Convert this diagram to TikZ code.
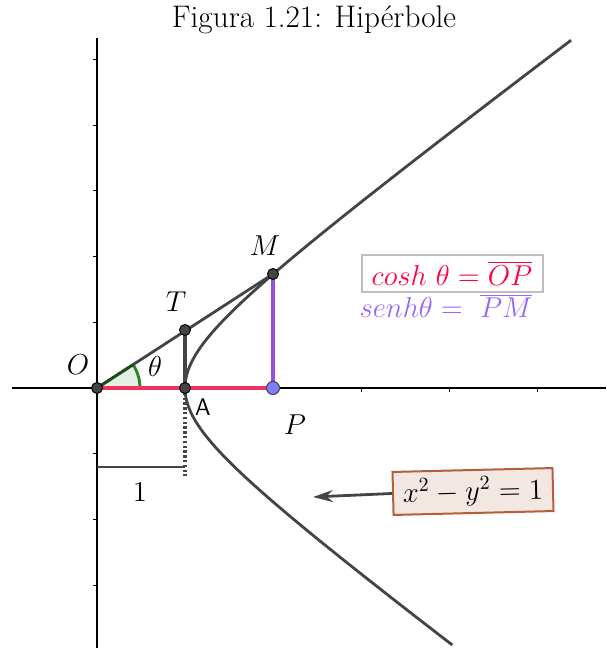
\documentclass[tikz,border=0pt]{standalone}
\usetikzlibrary{arrows.meta,calc}
\definecolor{dk}{RGB}{68,68,68}
\definecolor{redseg}{RGB}{240,50,95}
\definecolor{redtxt}{RGB}{255,0,64}
\definecolor{purseg}{RGB}{150,80,220}
\definecolor{purtxt}{RGB}{150,100,255}
\definecolor{pblue}{RGB}{125,125,255}
\definecolor{angg}{RGB}{40,130,40}
\definecolor{eqfill}{RGB}{243,231,226}
\definecolor{eqdraw}{RGB}{180,95,60}
\definecolor{boxgray}{RGB}{190,190,190}
\begin{document}
\begin{tikzpicture}[x=0.5pt,y=-0.5pt,
  lbl/.style={font=\fontsize{14}{17}\selectfont, inner sep=0pt},
  axisline/.style={draw=black, line width=0.75pt},
  tick/.style={draw=black, line width=0.5pt},
  curve/.style={draw=dk, line width=1.4pt},
  ptnode/.style={circle, draw=black, fill=dk, line width=0.5pt, minimum size=5.5pt, inner sep=0pt},
  pnode/.style={circle, draw=dk, fill=pblue, line width=0.5pt, minimum size=6.5pt, inner sep=0pt},
  eqbox/.style={draw=eqdraw, fill=eqfill, line width=1pt, minimum width=80pt, minimum height=21.5pt, rotate=1.4, font=\fontsize{14}{17}\selectfont},
  graybox/.style={draw=boxgray, fill=white, line width=1pt, minimum width=90.5pt, minimum height=16.5pt, font=\fontsize{14}{17}\selectfont}
]
\useasboundingbox (0,0) rectangle (606,648);
% title
\node[anchor=base, font=\fontsize{15.6}{18}\selectfont, inner sep=0pt] (title) at (314,27) {Figura 1.21: Hip\'erbole};
% coordinates
\coordinate (cO) at (97,388);
\coordinate (cA) at (185,388);
\coordinate (cT) at (185,330);
\coordinate (cM) at (273,274);
\coordinate (cP) at (273,388);
\coordinate (xl) at (12,388);
\coordinate (xr) at (606,388);
\coordinate (yt) at (97,38);
\coordinate (yb) at (97,648);
% axes
\draw[axisline] (xl) -- (xr);
\draw[axisline] (yt) -- (yb);
\foreach \yy in {59.5,125.2,190.9,256.6,322.3,453.7,519.4,585.1}
  \draw[tick] (97,\yy) -- (93,\yy);
\foreach \xx in {361,449,537}
  \draw[tick] (\xx,388) -- (\xx,392);
% angle
\fill[angg, fill opacity=0.13] (cO) -- ++(43,0) arc[start angle=0, end angle=-32.9, radius=43] -- cycle;
\draw[angg, line width=1.4pt] ($(cO)+(43,0)$) arc[start angle=0, end angle=-32.9, radius=43];
% hyperbola
\draw[curve] plot[domain=-2.073:2.369, samples=120, variable=\t] ({97+88*cosh(\t)},{388-65.7*sinh(\t)});
% lines
\draw[curve] (cO) -- (cM);
\draw[draw=dk, line width=1.6pt] (cA) -- (cT);
\draw[draw=redseg, line width=2.3pt] (cO) -- (cP);
\draw[draw=purseg, line width=2.3pt] (cP) -- (cM);
\draw[draw=angg!60!black, line width=1.4pt] (cO) -- ($(cO)!43/209.9!(cM)$);
% dotted and unit segment
\coordinate (dotend) at (185,476);
\coordinate (u1) at (97,467);
\coordinate (u2) at (185,467);
\draw[draw=dk, line width=1.8pt, dash pattern=on 1.2pt off 1.2pt] (cA) -- (dotend);
\draw[draw=dk, line width=1.4pt] (u1) -- (u2);
% points
\node[ptnode] (O) at (cO) {};
\node[ptnode] (A) at (cA) {};
\node[ptnode] (T) at (cT) {};
\node[ptnode] (M) at (cM) {};
\node[pnode] (P) at (cP) {};
% labels
\node[lbl] (lO) at (78,365) {$O$};
\node[lbl] (lT) at (176,302) {$T$};
\node[lbl] (lM) at (265,246) {$M$};
\node[lbl] (lth) at (155,366) {$\theta$};
\node[lbl, font=\sffamily\fontsize{12}{14}\selectfont] (lA) at (203,407) {A};
\node[lbl] (lP) at (295,425) {$P$};
\node[lbl] (l1) at (140,492) {$1$};
% boxes
\node[graybox, text=redtxt] (cosh) at (452,273.5) {$cosh\ \theta = \overline{OP}$};
\node[lbl, text=purtxt] (senh) at (446,306) {$senh\theta =\ \overline{PM}$};
\node[eqbox] (eq) at (473,491.5) {$x^2-y^2=1$};
\coordinate (arrend) at (313,497);
\draw[draw=dk, line width=1.4pt, -{Stealth[length=10pt,width=6pt]}] (eq.west) -- (arrend);
\end{tikzpicture}
\end{document}
